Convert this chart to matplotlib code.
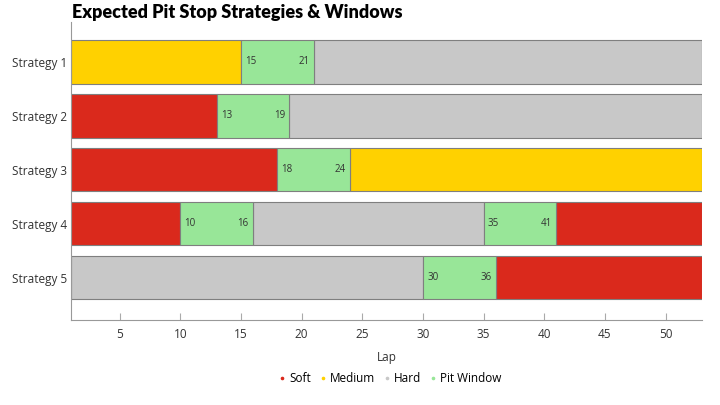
import matplotlib
matplotlib.use("Agg")
import matplotlib.pyplot as plt
from matplotlib.lines import Line2D

plt.rcParams['font.family'] = ['Open Sans', 'DejaVu Sans']

# stint data per strategy: (compound, start lap, end lap)
strategies = ["Strategy 1", "Strategy 2", "Strategy 3", "Strategy 4", "Strategy 5"]
stints = [
    [("Medium", 1, 15), ("Hard", 21, 53)],
    [("Soft", 1, 13), ("Hard", 19, 53)],
    [("Soft", 1, 18), ("Medium", 24, 53)],
    [("Soft", 1, 10), ("Hard", 16, 35), ("Soft", 41, 53)],
    [("Hard", 1, 30), ("Soft", 36, 53)],
]
windows = [
    [(15, 21)],
    [(13, 19)],
    [(18, 24)],
    [(10, 16), (35, 41)],
    [(30, 36)],
]
colors = {"Soft": "#DA291C", "Medium": "#FFD100", "Hard": "#C8C8C8", "Pit Window": "#98E698"}
edge = "#7f7f7f"

fig = plt.figure(figsize=(7.2, 4.05), dpi=100)
ax = fig.add_axes([0.0986, 0.21, 0.8764, 0.7357])

for i, name in enumerate(strategies):
    for comp, s, e in stints[i]:
        ax.barh(i, e - s, left=s, height=0.8, color=colors[comp], edgecolor=edge, linewidth=0.8)
    for s, e in windows[i]:
        ax.barh(i, e - s, left=s, height=0.8, color=colors["Pit Window"], edgecolor=edge, linewidth=0.8)
        ax.text(s + 0.35, i, str(s), va="center", ha="left", fontsize=7, color="#333333")
        ax.text(e - 0.35, i, str(e), va="center", ha="right", fontsize=7, color="#333333")

ax.set_xlim(1, 53)
ax.set_ylim(4.78, -0.74)
ax.set_yticks(range(len(strategies)))
ax.set_yticklabels(strategies)
ax.set_xticks([5, 10, 15, 20, 25, 30, 35, 40, 45, 50])
ax.tick_params(axis="y", length=0, labelsize=8.5, colors="#333333", pad=3)
ax.tick_params(axis="x", direction="in", length=5, color="#aaaaaa", labelsize=8.5,
               labelcolor="#333333", pad=6)
for side in ["top", "right"]:
    ax.spines[side].set_visible(False)
for side in ["left", "bottom"]:
    ax.spines[side].set_color("#999999")
    ax.spines[side].set_linewidth(0.8)

ax.set_xlabel("Lap", fontsize=8.5, color="#333333", labelpad=7)

fig.text(0.1, 0.968, "Expected Pit Stop Strategies & Windows", fontsize=13,
         fontweight="heavy", family=["Lato", "DejaVu Sans"], va="center", ha="left")

handles = [Line2D([], [], marker="o", linestyle="", markersize=1.6, color=colors[k])
           for k in ["Soft", "Medium", "Hard", "Pit Window"]]
fig.legend(handles, ["Soft", "Medium", "Hard", "Pit Window"], loc="center",
           bbox_to_anchor=(0.541, 0.066), ncol=4, frameon=False, fontsize=8.5,
           handletextpad=0.2, columnspacing=0.6, handlelength=0.8)

fig.savefig("out.png", dpi=100)
